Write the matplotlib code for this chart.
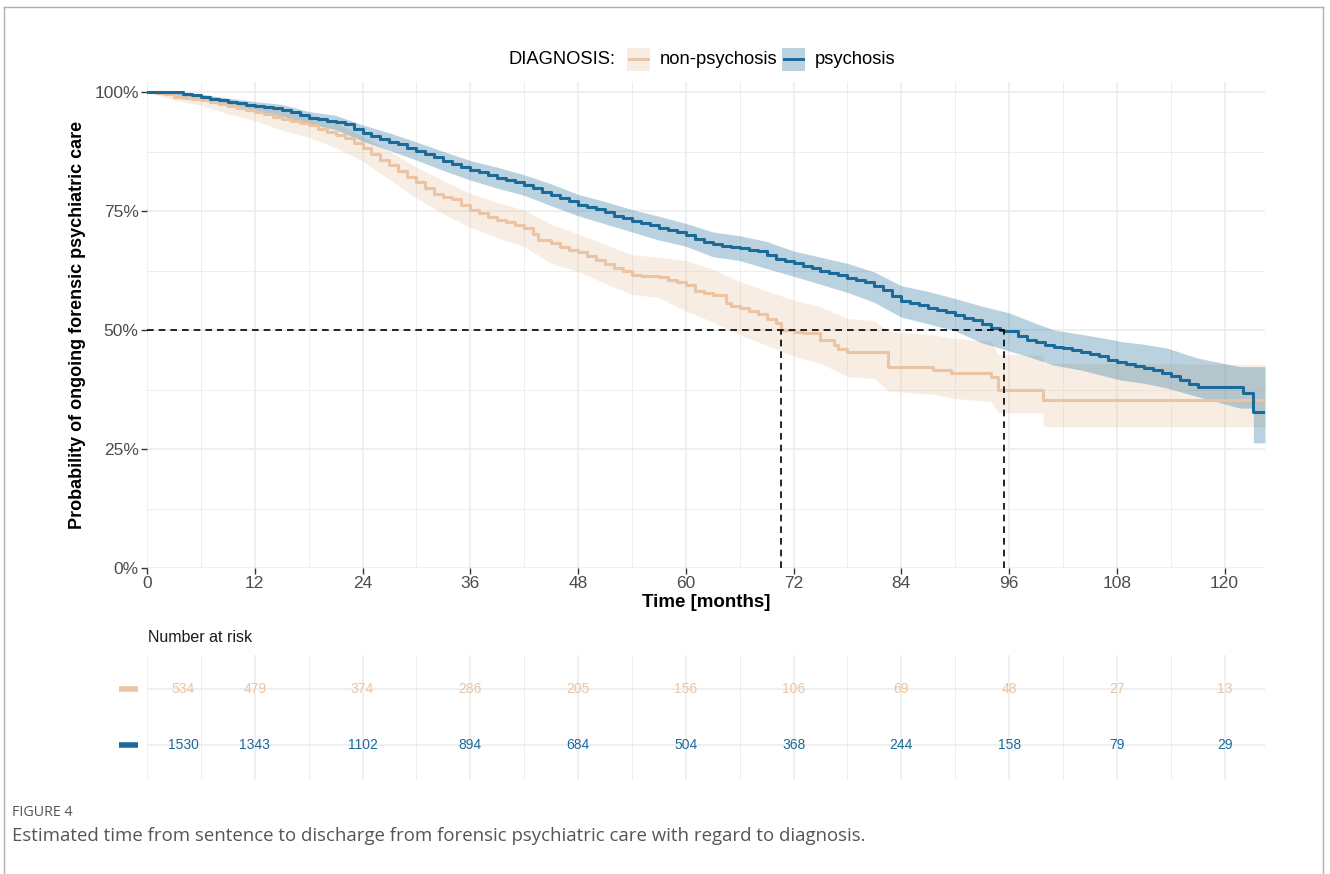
import matplotlib.pyplot as plt
from matplotlib.patches import Rectangle
from matplotlib.lines import Line2D

plt.rcParams['font.family'] = ['Liberation Sans', 'DejaVu Sans']

W, H = 1330, 874

# Kaplan-Meier estimate, psychosis group (months, % still in care)
psy_t = [0, 2, 3, 4, 5, 6, 7, 8, 9, 10, 11, 12, 13, 14, 15, 16, 17, 18, 19,
         20, 21, 22, 23, 24, 25, 26, 27, 28, 29, 30, 31, 32, 33, 34, 35, 36,
         37, 38, 39, 40, 41, 42, 43, 44, 45, 46, 47, 48, 49, 50, 51, 52, 53,
         54, 55, 56, 57, 58, 59, 60, 61, 62, 63, 64, 65, 66, 67, 68, 69, 70,
         71, 72, 73, 74, 75, 76, 77, 78, 79, 80, 81, 82, 83, 84, 85, 86, 87,
         88, 89, 90, 91, 92, 93, 94, 95, 95.4, 97, 98, 99, 100, 101, 102,
         103, 104, 105, 106, 107, 108, 109, 110, 111, 112, 113, 114, 115, 116,
         117, 122, 123.2]
psy_s = [100, 100, 99.9, 99.6, 99.3, 99.0, 98.6, 98.3, 97.9, 97.6, 97.3, 97.0,
         96.8, 96.6, 96.2, 95.8, 95.2, 94.6, 94.3, 94.0, 93.6, 93.2, 92.3,
         91.4, 90.8, 90.2, 89.6, 89.0, 88.3, 87.6, 87.0, 86.3, 85.5, 84.8,
         84.2, 83.6, 83.1, 82.6, 82.0, 81.5, 81.0, 80.5, 79.8, 79.0, 78.4,
         77.8, 77.0, 76.3, 75.9, 75.5, 74.7, 74.0, 73.5, 73.0, 72.5, 72.0,
         71.5, 71.0, 70.5, 70.0, 69.2, 68.5, 68.0, 67.6, 67.4, 67.2, 66.9,
         66.6, 65.8, 65.0, 64.5, 64.0, 63.5, 63.0, 62.5, 62.0, 61.5, 61.0,
         60.5, 60.0, 59.2, 58.5, 57.2, 56.0, 55.6, 55.3, 54.7, 54.2, 53.7,
         53.2, 52.6, 52.0, 51.2, 50.4, 50.1, 49.7, 48.8, 48.0, 47.4, 46.8,
         46.5, 46.2, 45.8, 45.4, 45.0, 44.5, 43.8, 43.2, 42.8, 42.4, 42.0,
         41.5, 40.9, 40.3, 39.5, 38.6, 38.1, 36.7, 32.8]

# Kaplan-Meier estimate, non-psychosis group
non_t = [0, 1, 2, 3, 4, 5, 6, 7, 8, 9, 10, 11, 12, 13, 14, 15, 16, 17, 18, 19,
         20, 21, 22, 23, 24, 25, 26, 27, 28, 29, 30, 31, 32, 33, 34, 35, 36,
         37, 38, 39, 40, 41, 42, 43, 43.5, 45, 46, 47, 48, 49, 50, 51, 52, 53,
         54, 55, 57, 58, 59, 60, 61, 62, 63, 64.5, 65, 66, 67, 68, 69, 70,
         70.6, 72, 73, 75, 76.5, 77, 78, 82.5, 87.5, 89.5, 94, 94.8, 99.8]
non_s = [100, 99.8, 99.5, 99.0, 98.8, 98.5, 98.3, 97.9, 97.5, 97.0, 96.6, 96.2,
         95.9, 95.3, 94.8, 94.4, 94.0, 93.5, 93.0, 92.3, 91.6, 91.0, 90.3,
         89.2, 88.2, 87.0, 85.8, 84.6, 83.5, 82.2, 81.0, 79.8, 78.5, 78.0,
         77.5, 76.3, 75.2, 74.5, 73.8, 73.2, 72.6, 72.0, 71.5, 70.2, 69.0,
         68.2, 67.5, 66.9, 66.3, 65.5, 64.8, 63.9, 63.0, 62.3, 61.6, 61.4,
         61.2, 60.6, 60.0, 59.4, 58.2, 57.8, 57.3, 55.6, 55.1, 54.6, 54.0,
         53.3, 52.4, 51.5, 50.0, 49.5, 49.3, 47.9, 46.8, 46.0, 45.4, 42.3,
         41.6, 40.9, 40.2, 37.5, 35.3]

# 95% confidence bands
psy_ci_t = [0, 3, 6, 9, 12, 15, 18, 21, 24, 27, 30, 33, 36, 39, 42, 45, 48,
            51, 54, 57, 60, 63, 66, 69, 72, 75, 78, 81, 84, 87, 90, 93, 96, 98,
            101, 104, 106.5, 108.4, 111, 113.6, 117, 121.7, 123.2, 123.2, 124.5]
psy_ci_lo = [100, 99.5, 98.3, 97.0, 95.9, 95.0, 93.3, 92.1, 89.7, 87.7, 85.7,
             83.5, 81.5, 79.8, 78.3, 76.1, 74.0, 72.3, 70.6, 68.9, 67.6, 65.4,
             64.6, 62.9, 61.3, 59.6, 57.9, 55.8, 52.7, 51.3, 49.8, 47.3, 45.6,
             44.5, 42.6, 41.6, 40.4, 39.5, 38.8, 37.8, 36.0, 33.6, 33.6, 26.3,
             26.3]
psy_ci_hi = [100, 100, 99.6, 98.7, 98.0, 97.4, 95.9, 95.1, 93.1, 91.4, 89.5,
             87.5, 85.6, 84.2, 82.6, 80.7, 78.5, 77.0, 75.3, 73.9, 72.4, 70.6,
             69.8, 68.6, 66.6, 65.3, 64.0, 62.2, 59.3, 58.1, 56.6, 55.0, 53.6,
             52.1, 50.0, 49.1, 48.3, 47.6, 47.0, 46.2, 44.1, 42.3, 42.3, 42.3,
             42.3]

non_ci_t = [0, 3, 6, 9, 12, 15, 18, 21, 24, 27, 30, 33, 36, 39, 42, 45, 48, 51,
            54, 57, 60, 63, 66, 69, 72, 75, 78, 81, 82.5, 87.5, 90, 94, 94.8,
            99.8, 99.8, 124.5]
non_ci_lo = [100, 98.3, 97.2, 95.4, 94.0, 92.0, 90.5, 88.3, 85.5, 81.6, 77.7,
             74.4, 71.6, 69.4, 67.5, 64.0, 62.3, 59.8, 57.5, 56.8, 54.0, 51.7,
             49.0, 46.8, 44.5, 43.0, 40.2, 39.8, 37.2, 36.5, 35.6, 35.0, 32.6,
             32.6, 29.7, 29.7]
non_ci_hi = [100, 99.7, 99.3, 98.5, 97.6, 96.5, 95.3, 93.6, 90.8, 87.5, 84.2,
             81.4, 78.7, 76.8, 75.2, 72.2, 70.2, 68.0, 65.8, 65.3, 64.6, 62.8,
             60.2, 58.2, 56.3, 54.9, 52.4, 52.0, 49.7, 49.0, 48.2, 47.6, 44.8,
             44.8, 43.0, 42.8]

t_end = 124.5
medians = [70.6, 95.4]

risk_times = [0, 12, 24, 36, 48, 60, 72, 84, 96, 108, 120]
risk_non = [534, 479, 374, 286, 205, 156, 106, 69, 48, 27, 13]
risk_psy = [1530, 1343, 1102, 894, 684, 504, 368, 244, 158, 79, 29]

col_non = '#EAC4A3'
col_psy = '#1B6A9A'
grid_col = '#EBEBEB'
tick_col = '#4D4D4D'


def fx(x):
    return x / W


def fy(y):
    return 1 - y / H


fig = plt.figure(figsize=(W / 100, H / 100), dpi=100)

# ---- survival curves ----
ax = fig.add_axes([fx(147), fy(568), (1265 - 147) / W, (568 - 82) / H])
ax.set_xlim(0, t_end)
ax.set_ylim(0, 100 * 486 / 476)

for t, lo, hi, c in [(non_ci_t, non_ci_lo, non_ci_hi, col_non),
                     (psy_ci_t, psy_ci_lo, psy_ci_hi, col_psy)]:
    ax.fill_between(t, lo, hi, color=c, alpha=0.3, lw=0, zorder=2)

for t, s, c in [(non_t, non_s, col_non), (psy_t, psy_s, col_psy)]:
    ax.step(t + [t_end], s + [s[-1]], where='post', color=c, lw=2.2, zorder=3)

# median survival lines
ax.hlines(50, 0, max(medians), colors='black', linestyles=(0, (4, 3)),
          lw=1.2, zorder=4)
ax.vlines(medians, 0, 50, colors='black', linestyles=(0, (4, 3)),
          lw=1.2, zorder=4)

ax.set_xticks(risk_times)
ax.set_xticks(range(6, 125, 12), minor=True)
ax.set_yticks([0, 25, 50, 75, 100])
ax.set_yticklabels(['0%', '25%', '50%', '75%', '100%'])
ax.set_yticks([12.5, 37.5, 62.5, 87.5], minor=True)
ax.grid(which='major', color=grid_col, lw=1.1, zorder=0)
ax.grid(which='minor', color=grid_col, lw=0.6, zorder=0)
ax.set_axisbelow(True)
for sp in ax.spines.values():
    sp.set_visible(False)
ax.tick_params(which='major', length=4, width=1, color='#333333',
               labelcolor=tick_col, labelsize=12.5, pad=2)
ax.tick_params(which='minor', length=0)
ax.set_xlabel('Time [months]', fontsize=13.5, fontweight='bold', labelpad=2)
ax.set_ylabel('Probability of ongoing forensic psychiatric care', fontsize=13,
              fontweight='bold', labelpad=6)

# ---- legend ----
fig.text(fx(615), fy(59), 'DIAGNOSIS:', fontsize=13.2, ha='right', va='center')
for x0, c, lab in [(627, col_non, 'non-psychosis'), (782, col_psy, 'psychosis')]:
    fig.patches.append(Rectangle((fx(x0), fy(71)), 23 / W, 23 / H, color=c,
                                 alpha=0.3, lw=0, transform=fig.transFigure))
    fig.lines.append(Line2D([fx(x0 + 2), fx(x0 + 21)], [fy(59), fy(59)],
                            color=c, lw=2.1, transform=fig.transFigure))
    fig.text(fx(x0 + 33), fy(59), lab, fontsize=13.2, ha='left', va='center')

# ---- number at risk table ----
rt = fig.add_axes([fx(147), fy(780), (1265 - 147) / W, (780 - 655) / H])
rt.set_xlim(0, t_end)
rt.set_ylim(0.375, 2.607)
rt.set_xticks(risk_times)
rt.set_xticks(range(6, 125, 12), minor=True)
rt.set_yticks([1, 2])
rt.grid(which='major', color=grid_col, lw=1.1)
rt.grid(which='minor', axis='x', color=grid_col, lw=0.6)
rt.tick_params(which='both', length=0, labelbottom=False, labelleft=False)
for sp in rt.spines.values():
    sp.set_visible(False)

for row, counts, c in [(2, risk_non, col_non), (1, risk_psy, col_psy)]:
    for t, n in zip(risk_times, counts):
        # first count is nudged right so it clears the panel edge
        dx = 26 if t == 0 else 0
        rt.annotate(str(n), (t, row), xytext=(dx, 0), textcoords='offset points',
                    ha='center', va='center', fontsize=10, color=c)
    rt.plot([-3.1, -1.0], [row, row], color=c, lw=4, solid_capstyle='butt',
            clip_on=False)

fig.text(fx(148), fy(638), 'Number at risk', fontsize=11.5, ha='left',
         va='center', color='#1A1A1A')

# ---- caption and page frame ----
fig.text(fx(12), fy(813), 'FIGURE 4', fontsize=10.3, ha='left', va='center',
         color='#555555', family=['Open Sans', 'DejaVu Sans'])
fig.text(fx(12), fy(836),
         'Estimated time from sentence to discharge from forensic psychiatric '
         'care with regard to diagnosis.',
         fontsize=13.4, ha='left', va='center', color='#555555',
         family=['Open Sans', 'DejaVu Sans'])

for xs, ys in [([4, 4], [7, 880]), ([4, 1323], [7, 7]), ([1323, 1323], [7, 880])]:
    fig.lines.append(Line2D([fx(v) for v in xs], [fy(v) for v in ys],
                            color='#B0B0B0', lw=1, transform=fig.transFigure))

fig.savefig('out.png', dpi=100)
